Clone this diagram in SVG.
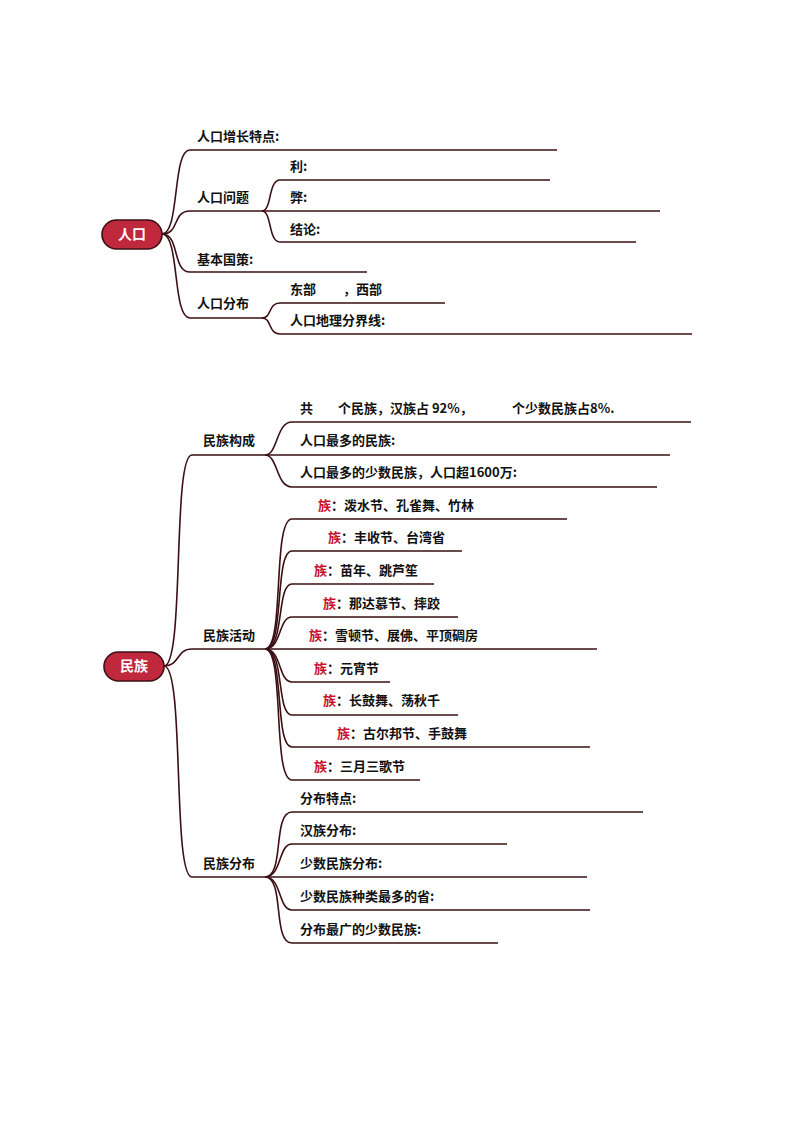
<svg xmlns="http://www.w3.org/2000/svg" width="794" height="1123" viewBox="0 0 794 1123">
<style>
.l{fill:none;stroke:#3b0f14;stroke-width:1.6}
.t{font-family:"Noto Sans CJK SC",sans-serif;font-size:13px;font-weight:700;fill:#111}
.r{fill:#c8102e}
.root{fill:#c0283e;stroke:#3b0f14;stroke-width:1.6}
.rt{font-family:"Noto Sans CJK SC",sans-serif;font-size:14px;font-weight:700;fill:#fff}
</style>
<rect width="794" height="1123" fill="#fff"/>
<g id="connectors">
<path class="l" d="M162 234 C180 234 172 150 190 150 H557"/>
<path class="l" d="M162 234 C180 234 172 211 190 211 H262"/>
<path class="l" d="M262 211 C272 211 268 180 280 180 H550"/>
<path class="l" d="M262 211 H660"/>
<path class="l" d="M262 211 C272 211 268 242 280 242 H636"/>
<path class="l" d="M162 234 C180 234 172 272 190 272 H367"/>
<path class="l" d="M162 234 C180 234 172 318 190 318 H262"/>
<path class="l" d="M262 318 C272 318 268 303 280 303 H445"/>
<path class="l" d="M262 318 C272 318 268 334 280 334 H692"/>

<path class="l" d="M164 666 C185 666 172 455 192 455 H265"/>
<path class="l" d="M265 455 C278 455 276 422 292 422 H691"/>
<path class="l" d="M265 455 H670"/>
<path class="l" d="M265 455 C278 455 276 487 292 487 H657"/>
<path class="l" d="M164 666 C180 666 176 649 192 649 H265"/>
<path class="l" d="M265 649 C285 649 272 519 292 519 H567"/>
<path class="l" d="M265 649 C285 649 274 551 292 551 H462"/>
<path class="l" d="M265 649 C285 649 276 584 292 584 H434"/>
<path class="l" d="M265 649 C282 649 278 617 292 617 H458"/>
<path class="l" d="M265 649 H597"/>
<path class="l" d="M265 649 C282 649 278 682 292 682 H390"/>
<path class="l" d="M265 649 C285 649 276 715 292 715 H458"/>
<path class="l" d="M265 649 C285 649 274 747 292 747 H590"/>
<path class="l" d="M265 649 C285 649 272 780 292 780 H420"/>
<path class="l" d="M164 666 C185 666 172 877 192 877 H265"/>
<path class="l" d="M265 877 C285 877 272 812 292 812 H643"/>
<path class="l" d="M265 877 C282 877 278 844 292 844 H507"/>
<path class="l" d="M265 877 H587"/>
<path class="l" d="M265 877 C282 877 278 910 292 910 H590"/>
<path class="l" d="M265 877 C285 877 272 943 292 943 H498"/>
</g>
<g id="n-renkou"><rect class="root" x="102" y="220" width="60" height="29" rx="14.5"/><text class="rt" x="132" y="239" text-anchor="middle">人口</text></g>
<g id="n1"><text class="t" x="197" y="141">人口增长特点:</text></g>
<g id="n2"><text class="t" x="197" y="202">人口问题</text></g>
<g id="n2a"><text class="t" x="290" y="171">利:</text></g>
<g id="n2b"><text class="t" x="290" y="202">弊:</text></g>
<g id="n2c"><text class="t" x="290" y="234">结论:</text></g>
<g id="n3"><text class="t" x="197" y="264">基本国策:</text></g>
<g id="n4"><text class="t" x="197" y="308">人口分布</text></g>
<g id="n4a"><text class="t" x="290" y="294">东部<tspan x="343">，西部</tspan></text></g>
<g id="n4b"><text class="t" x="290" y="325">人口地理分界线:</text></g>

<g id="n-minzu"><rect class="root" x="104" y="652" width="60" height="29" rx="14.5"/><text class="rt" x="134" y="671" text-anchor="middle">民族</text></g>
<g id="m1"><text class="t" x="203" y="445">民族构成</text></g>
<g id="m1a"><text class="t" x="300" y="413">共<tspan x="338">个民族，汉族占 92%，</tspan><tspan x="512">个少数民族占8%.</tspan></text></g>
<g id="m1b"><text class="t" x="300" y="445">人口最多的民族:</text></g>
<g id="m1c"><text class="t" x="300" y="477">人口最多的少数民族，人口超1600万:</text></g>
<g id="m2"><text class="t" x="203" y="640">民族活动</text></g>
<g id="m2a"><text class="t" x="318" y="510"><tspan class="r">族</tspan>：泼水节、孔雀舞、竹林</text></g>
<g id="m2b"><text class="t" x="328" y="542"><tspan class="r">族</tspan>：丰收节、台湾省</text></g>
<g id="m2c"><text class="t" x="314" y="575"><tspan class="r">族</tspan>：苗年、跳芦笙</text></g>
<g id="m2d"><text class="t" x="323" y="608"><tspan class="r">族</tspan>：那达慕节、摔跤</text></g>
<g id="m2e"><text class="t" x="309" y="640"><tspan class="r">族</tspan>：雪顿节、展佛、平顶碉房</text></g>
<g id="m2f"><text class="t" x="314" y="673"><tspan class="r">族</tspan>：元宵节</text></g>
<g id="m2g"><text class="t" x="323" y="705"><tspan class="r">族</tspan>：长鼓舞、荡秋千</text></g>
<g id="m2h"><text class="t" x="337" y="738"><tspan class="r">族</tspan>：古尔邦节、手鼓舞</text></g>
<g id="m2i"><text class="t" x="314" y="771"><tspan class="r">族</tspan>：三月三歌节</text></g>
<g id="m3"><text class="t" x="203" y="868">民族分布</text></g>
<g id="m3a"><text class="t" x="300" y="803">分布特点:</text></g>
<g id="m3b"><text class="t" x="300" y="835">汉族分布:</text></g>
<g id="m3c"><text class="t" x="300" y="868">少数民族分布:</text></g>
<g id="m3d"><text class="t" x="300" y="901">少数民族种类最多的省:</text></g>
<g id="m3e"><text class="t" x="300" y="934">分布最广的少数民族:</text></g>
</svg>
